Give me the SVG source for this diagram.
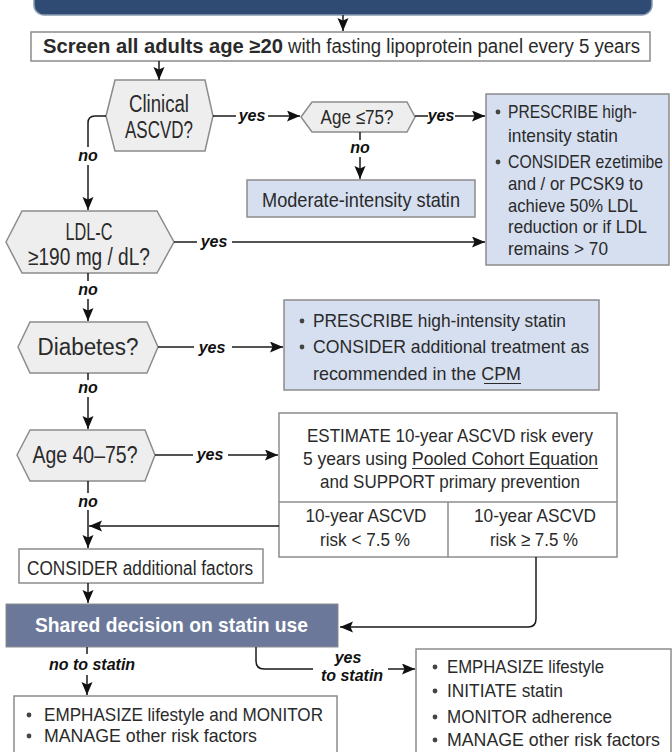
<svg xmlns="http://www.w3.org/2000/svg" width="672" height="752" viewBox="0 0 672 752">
<defs>
<style>
.f{font-family:"Liberation Sans",Arial,sans-serif;fill:#2a2a2a}
.h{font-size:23px}
.m{font-size:20px}
.b{font-size:19px}
.lb{font-family:"Liberation Sans",Arial,sans-serif;font-size:16px;font-weight:bold;font-style:italic;fill:#111;text-anchor:middle}
.c{text-anchor:middle}
.box{fill:#fff;stroke:#8c8c8c;stroke-width:1.5}
.blue{fill:#d6dff0;stroke:#8c8c8c;stroke-width:1.5}
.hex{fill:#eeeeee;stroke:#8c8c8c;stroke-width:1.5}
.con{fill:none;stroke:#1a1a1a;stroke-width:1.5}
.arr{marker-end:url(#ah)}
.dot{fill:#444}
.ul{stroke:#2a2a2a;stroke-width:1.2}
</style>
<marker id="ah" markerUnits="userSpaceOnUse" markerWidth="14" markerHeight="12" refX="13" refY="5.5" orient="auto">
<path d="M0,0 L13,5.5 L0,11 L2.5,5.5 z" fill="#111"/>
</marker>
</defs>

<g id="top-bar">
<rect x="34" y="-12" width="618" height="27" rx="10" fill="#2f4b73" stroke="#8a9ab3" stroke-width="1.5"/>
</g>

<g id="screen">
<rect class="box" x="31" y="32" width="619" height="29"/>
<text class="f" x="43" y="53" font-size="20" font-weight="bold" textLength="240" lengthAdjust="spacingAndGlyphs">Screen all adults age ≥20</text>
<text class="f" x="288" y="53" font-size="20" textLength="352" lengthAdjust="spacingAndGlyphs">with fasting lipoprotein panel every 5 years</text>
</g>

<g id="clinical-ascvd">
<polygon class="hex" points="106,116 115,80 205,80 213,116 205,151 115,151"/>
<text class="f h c" x="159" y="112" textLength="60" lengthAdjust="spacingAndGlyphs">Clinical</text>
<text class="f h c" x="159" y="138" textLength="68" lengthAdjust="spacingAndGlyphs">ASCVD?</text>
</g>

<g id="age-75">
<polygon class="hex" points="301,117 312,102 407,102 415,117 407,132 312,132"/>
<text class="f c" x="357" y="124" font-size="20" textLength="73" lengthAdjust="spacingAndGlyphs">Age ≤75?</text>
</g>

<g id="high-intensity-box">
<rect class="blue" x="486" y="94" width="183" height="171"/>
<circle class="dot" cx="498" cy="112" r="2.4"/>
<text class="f b" x="508" y="118" textLength="129" lengthAdjust="spacingAndGlyphs">PRESCRIBE high-</text>
<text class="f b" x="508" y="142" textLength="110" lengthAdjust="spacingAndGlyphs">intensity statin</text>
<circle class="dot" cx="498" cy="162" r="2.4"/>
<text class="f b" x="508" y="168" textLength="155" lengthAdjust="spacingAndGlyphs">CONSIDER ezetimibe</text>
<text class="f b" x="508" y="190" textLength="135" lengthAdjust="spacingAndGlyphs">and / or PCSK9 to</text>
<text class="f b" x="508" y="212" textLength="130" lengthAdjust="spacingAndGlyphs">achieve 50% LDL</text>
<text class="f b" x="508" y="233" textLength="139" lengthAdjust="spacingAndGlyphs">reduction or if LDL</text>
<text class="f b" x="508" y="255" textLength="100" lengthAdjust="spacingAndGlyphs">remains &gt; 70</text>
</g>

<g id="moderate-box">
<rect class="blue" x="247" y="180" width="228" height="37"/>
<text class="f c" x="361" y="207" font-size="21" textLength="198" lengthAdjust="spacingAndGlyphs">Moderate-intensity statin</text>
</g>

<g id="ldl">
<polygon class="hex" points="6,242 22,211 157,211 174,242 157,273 22,273"/>
<text class="f h c" x="89" y="240" textLength="47" lengthAdjust="spacingAndGlyphs">LDL-C</text>
<text class="f h c" x="89" y="265" textLength="122" lengthAdjust="spacingAndGlyphs">≥190 mg / dL?</text>
</g>

<g id="diabetes">
<polygon class="hex" points="18,347 30,322 147,322 158,347 147,373 30,373"/>
<text class="f h c" x="88" y="355" textLength="101" lengthAdjust="spacingAndGlyphs">Diabetes?</text>
</g>

<g id="diabetes-box">
<rect class="blue" x="284" y="300" width="315" height="90"/>
<circle class="dot" cx="302" cy="321" r="2.4"/>
<text class="f b" x="313" y="327" textLength="253" lengthAdjust="spacingAndGlyphs">PRESCRIBE high-intensity statin</text>
<circle class="dot" cx="302" cy="347" r="2.4"/>
<text class="f b" x="313" y="353" textLength="276" lengthAdjust="spacingAndGlyphs">CONSIDER additional treatment as</text>
<text class="f b" x="313" y="380" textLength="208" lengthAdjust="spacingAndGlyphs">recommended in the CPM</text>
<line class="ul" x1="484" y1="383.5" x2="521" y2="383.5"/>
</g>

<g id="age-40-75">
<polygon class="hex" points="17,455 30,430 145,430 155,455 145,481 30,481"/>
<text class="f h c" x="85" y="463" textLength="105" lengthAdjust="spacingAndGlyphs">Age 40–75?</text>
</g>

<g id="estimate-box">
<rect class="box" x="279" y="413" width="338" height="144"/>
<line class="box" x1="279" y1="502" x2="617" y2="502"/>
<line class="box" x1="448" y1="502" x2="448" y2="557"/>
<text class="f b c" x="450" y="442" textLength="286" lengthAdjust="spacingAndGlyphs">ESTIMATE 10-year ASCVD risk every</text>
<text class="f b c" x="450.5" y="465" textLength="295" lengthAdjust="spacingAndGlyphs">5 years using Pooled Cohort Equation</text>
<line class="ul" x1="412" y1="468.5" x2="598" y2="468.5"/>
<text class="f b c" x="450" y="488" textLength="260" lengthAdjust="spacingAndGlyphs">and SUPPORT primary prevention</text>
<text class="f b c" x="366" y="522" textLength="121" lengthAdjust="spacingAndGlyphs">10-year ASCVD</text>
<text class="f b c" x="365" y="546" textLength="90" lengthAdjust="spacingAndGlyphs">risk &lt; 7.5 %</text>
<text class="f b c" x="535" y="522" textLength="122" lengthAdjust="spacingAndGlyphs">10-year ASCVD</text>
<text class="f b c" x="534" y="546" textLength="88" lengthAdjust="spacingAndGlyphs">risk ≥ 7.5 %</text>
</g>

<g id="consider-factors">
<rect class="box" x="19" y="549" width="244" height="34"/>
<text class="f m" x="27" y="575" textLength="226" lengthAdjust="spacingAndGlyphs">CONSIDER additional factors</text>
</g>

<g id="shared-decision">
<rect x="6" y="604" width="332" height="43" fill="#6b7899" stroke="#8c8c8c" stroke-width="1"/>
<text x="35" y="632" font-family="Liberation Sans,Arial,sans-serif" font-size="21" font-weight="bold" fill="#fff" textLength="273" lengthAdjust="spacingAndGlyphs">Shared decision on statin use</text>
</g>

<g id="no-statin-box">
<rect class="box" x="14" y="696" width="323" height="70"/>
<circle class="dot" cx="29" cy="715" r="2.4"/>
<text class="f b" x="44" y="721" textLength="279" lengthAdjust="spacingAndGlyphs">EMPHASIZE lifestyle and MONITOR</text>
<circle class="dot" cx="29" cy="736" r="2.4"/>
<text class="f b" x="44" y="742" textLength="213" lengthAdjust="spacingAndGlyphs">MANAGE other risk factors</text>
</g>

<g id="yes-statin-box">
<rect class="box" x="416" y="649" width="255" height="120"/>
<circle class="dot" cx="435" cy="667" r="2.4"/>
<text class="f b" x="447" y="673" textLength="157" lengthAdjust="spacingAndGlyphs">EMPHASIZE lifestyle</text>
<circle class="dot" cx="435" cy="691" r="2.4"/>
<text class="f b" x="447" y="697" textLength="116" lengthAdjust="spacingAndGlyphs">INITIATE statin</text>
<circle class="dot" cx="435" cy="717" r="2.4"/>
<text class="f b" x="447" y="723" textLength="165" lengthAdjust="spacingAndGlyphs">MONITOR adherence</text>
<circle class="dot" cx="435" cy="740" r="2.4"/>
<text class="f b" x="447" y="746" textLength="213" lengthAdjust="spacingAndGlyphs">MANAGE other risk factors</text>
</g>

<g id="connectors">
<line class="con arr" x1="343" y1="15" x2="343" y2="31"/>
<line class="con arr" x1="159" y1="61" x2="159" y2="80"/>
<line class="con" x1="213" y1="116" x2="236" y2="116"/>
<text class="lb" x="252" y="121">yes</text>
<line class="con arr" x1="268" y1="116" x2="300" y2="116"/>
<line class="con" x1="415" y1="116" x2="428" y2="116"/>
<text class="lb" x="441" y="121">yes</text>
<line class="con arr" x1="455" y1="116" x2="485" y2="116"/>
<line class="con" x1="360" y1="132" x2="360" y2="140"/>
<text class="lb" x="360" y="153">no</text>
<line class="con arr" x1="360" y1="157" x2="360" y2="179"/>
<path class="con" d="M106,116 H95 Q88,116 88,123 V147"/>
<text class="lb" x="88" y="161">no</text>
<line class="con arr" x1="88" y1="165" x2="88" y2="210"/>
<line class="con" x1="174" y1="242" x2="197" y2="242"/>
<text class="lb" x="214" y="247">yes</text>
<line class="con arr" x1="232" y1="242" x2="485" y2="242"/>
<line class="con" x1="88" y1="273" x2="88" y2="281"/>
<text class="lb" x="88" y="295">no</text>
<line class="con arr" x1="88" y1="299" x2="88" y2="321"/>
<line class="con" x1="158" y1="347" x2="194" y2="347"/>
<text class="lb" x="212" y="353">yes</text>
<line class="con arr" x1="232" y1="347" x2="283" y2="347"/>
<line class="con" x1="88" y1="373" x2="88" y2="380"/>
<text class="lb" x="88" y="393">no</text>
<line class="con arr" x1="88" y1="397" x2="88" y2="429"/>
<line class="con" x1="155" y1="455" x2="193" y2="455"/>
<text class="lb" x="210" y="460">yes</text>
<line class="con arr" x1="228" y1="455" x2="278" y2="455"/>
<line class="con" x1="88" y1="481" x2="88" y2="493"/>
<text class="lb" x="88" y="507">no</text>
<line class="con arr" x1="88" y1="510" x2="88" y2="548"/>
<line class="con arr" x1="279" y1="526" x2="89" y2="526"/>
<line class="con arr" x1="88" y1="583" x2="88" y2="603"/>
<path class="con arr" d="M536,557 V619 Q536,627 528,627 H340"/>
<line class="con" x1="87" y1="647" x2="87" y2="654"/>
<text class="lb" x="92" y="670">no to statin</text>
<line class="con arr" x1="87" y1="675" x2="87" y2="695"/>
<path class="con" d="M256,647 V661 Q256,669 264,669 H313"/>
<text class="lb" x="348" y="663">yes</text>
<text class="lb" x="352" y="681">to statin</text>
<line class="con arr" x1="388" y1="669" x2="415" y2="669"/>
</g>
</svg>
